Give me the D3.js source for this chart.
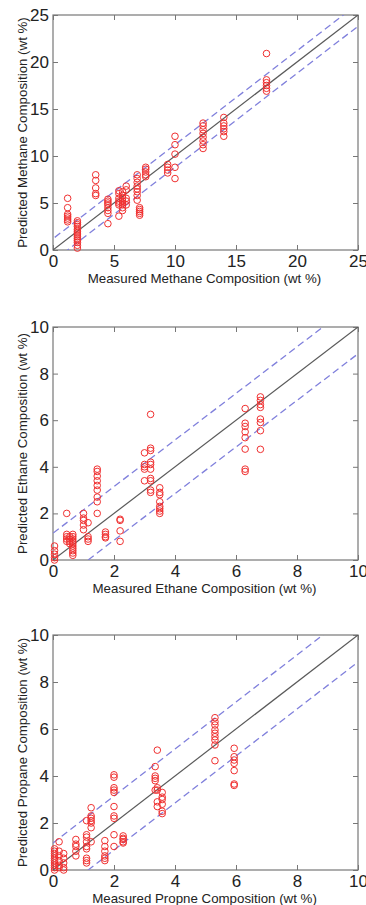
<!DOCTYPE html>
<html>
<head>
<meta charset="utf-8">
<script src="https://cdn.jsdelivr.net/npm/d3@7"></script>
<style>
  body { margin: 0; background: #fff; }
  svg { display: block; }
  text { font-family: Arial, "Liberation Sans", sans-serif; fill: #222; }
</style>
</head>
<body>
<div id="chart"></div>
<script>
// measured value of each column of points, and the predicted values in it
const methaneMeasured = [1.2, 2.0, 3.5, 4.5, 5.4, 5.7, 6.0, 6.9, 7.1, 7.6, 9.4, 10.0, 12.3, 14.0, 17.5];
const methanePredicted = [
  [5.5, 4.5, 3.8, 3.6, 3.4, 3.2, 3.0],
  [3.1, 2.9, 2.7, 2.5, 2.2, 2.0, 1.8, 1.6, 1.4, 1.2, 1.0, 0.8, 0.5, 0.2],
  [8.0, 7.4, 6.6, 6.0, 5.8],
  [5.4, 5.2, 5.0, 4.8, 4.5, 4.2, 3.9, 2.8],
  [6.3, 6.0, 5.5, 5.2, 5.0, 4.8, 3.6],
  [6.2, 5.8, 5.5, 5.2, 5.0, 4.8, 4.5, 4.2],
  [6.8, 6.4, 5.5, 5.2, 4.8],
  [8.0, 7.6, 7.2, 6.8, 6.5, 6.2, 5.8, 5.3],
  [4.5, 4.3, 4.1, 3.9, 3.7],
  [8.8, 8.6, 8.3, 8.0, 7.8],
  [9.1, 8.8, 8.5, 8.2],
  [12.1, 11.2, 10.2, 8.8, 7.6],
  [13.5, 13.2, 12.8, 12.4, 12.0, 11.6, 11.2, 10.8],
  [14.1, 13.5, 13.2, 12.9, 12.6, 12.1],
  [20.9, 18.1, 17.8, 17.5, 17.2, 16.9]
];

const ethaneMeasured = [0.05, 0.45, 0.55, 0.65, 1.0, 1.15, 1.45, 1.72, 2.2, 3.0, 3.2, 3.5, 6.3, 6.8];
const ethanePredicted = [
  [0.6, 0.4, 0.25, 0.1, 0.0],
  [2.0, 1.1, 1.0, 0.9, 0.8],
  [1.0, 0.9, 0.8, 0.7],
  [1.1, 1.0, 0.9, 0.8, 0.7, 0.6, 0.5, 0.4, 0.3, 0.2],
  [2.0, 1.8, 1.7, 1.5, 1.3],
  [1.6, 1.0, 0.9, 0.8],
  [3.9, 3.8, 3.6, 3.4, 3.2, 3.0, 2.7, 2.5, 2.0],
  [1.2, 1.1, 1.0, 0.95],
  [1.75, 1.7, 1.25, 0.8],
  [4.6, 4.1, 4.0, 3.9, 3.4],
  [6.25, 4.8, 4.7, 4.2, 4.1, 3.9, 3.5, 3.4, 3.0, 2.9],
  [3.1, 2.9, 2.8, 2.5, 2.3, 2.2, 2.1, 2.0],
  [6.5, 5.87, 5.73, 5.5, 5.25, 4.76, 3.9, 3.8],
  [7.0, 6.85, 6.67, 6.55, 6.05, 5.9, 5.55, 4.75]
];

const propaneMeasured = [0.05, 0.2, 0.35, 0.75, 1.1, 1.25, 1.7, 2.0, 2.3, 3.35, 3.42, 3.58, 5.31, 5.94];
const propanePredicted = [
  [0.9, 0.8, 0.7, 0.6, 0.5, 0.4, 0.3, 0.2, 0.1, 0.0],
  [1.2, 0.8, 0.6, 0.4, 0.2, 0.1],
  [0.7, 0.5, 0.3, 0.1, 0.0],
  [1.3, 1.1, 1.0, 0.8, 0.6],
  [2.1, 1.5, 1.4, 1.2, 1.0, 0.9, 0.5, 0.4, 0.3],
  [2.65, 2.3, 2.2, 2.1, 2.0, 1.8, 1.2],
  [1.25, 1.0, 0.8, 0.6, 0.5, 0.4],
  [4.05, 3.95, 3.5, 3.4, 3.3, 2.7, 2.3, 2.2, 1.5, 1.0],
  [1.45, 1.35, 1.3, 1.2, 1.15],
  [4.4, 4.0, 3.9, 3.8, 3.4],
  [5.1, 3.5, 3.4, 2.9, 2.7],
  [3.3, 3.1, 3.0, 2.8, 2.5, 2.4],
  [6.48, 6.31, 6.17, 5.96, 5.82, 5.67, 5.53, 5.32, 4.65],
  [5.18, 4.82, 4.68, 4.54, 4.23, 3.66, 3.6]
];

const methaneTicks = [0, 5, 10, 15, 20, 25];
const smallTicks = [0, 2, 4, 6, 8, 10];

const panels = [
  { id: 'methane', measured: methaneMeasured, predicted: methanePredicted, max: 25, ticks: methaneTicks, band: 1.2,
    xLabel: 'Measured Methane Composition (wt %)', yLabel: 'Predicted Methane Composition (wt %)', top: 15, bottom: 250 },
  { id: 'ethane', measured: ethaneMeasured, predicted: ethanePredicted, max: 10, ticks: smallTicks, band: 1.15,
    xLabel: 'Measured Ethane Composition (wt %)', yLabel: 'Predicted Ethane Composition (wt %)', top: 327, bottom: 560 },
  { id: 'propane', measured: propaneMeasured, predicted: propanePredicted, max: 10, ticks: smallTicks, band: 1.15,
    xLabel: 'Measured Propne Composition (wt %)', yLabel: 'Predicted Propane Composition (wt %)', top: 635, bottom: 870 }
];

const width = 366, height = 905;
const left = 53, right = 358;

const svg = d3.select('#chart').append('svg')
  .attr('width', width)
  .attr('height', height);

panels.forEach(p => {
  const x = d3.scaleLinear().domain([0, p.max]).range([left, right]);
  const y = d3.scaleLinear().domain([0, p.max]).range([p.bottom, p.top]);

  const g = svg.append('g');

  g.append('clipPath').attr('id', 'clip-' + p.id)
    .append('rect')
    .attr('x', left).attr('y', p.top)
    .attr('width', right - left).attr('height', p.bottom - p.top);

  // inner ticks on all four sides, matlab style
  const tickLen = 5;
  const axisStyle = sel => {
    sel.select('.domain').remove();
    sel.selectAll('.tick line').attr('stroke', '#777');
  };
  g.append('g').attr('transform', `translate(0,${p.bottom})`)
    .call(d3.axisBottom(x).tickValues(p.ticks).tickSizeInner(-tickLen).tickPadding(3).tickFormat(d3.format('d')))
    .call(axisStyle)
    .selectAll('text').attr('font-size', 17).attr('fill', '#1a1a1a').attr('dy', '0.8em');
  g.append('g').attr('transform', `translate(0,${p.top})`)
    .call(d3.axisTop(x).tickValues(p.ticks).tickSizeInner(-tickLen).tickFormat(''))
    .call(axisStyle);
  g.append('g').attr('transform', `translate(${left},0)`)
    .call(d3.axisLeft(y).tickValues(p.ticks).tickSizeInner(-tickLen).tickPadding(4).tickFormat(d3.format('d')))
    .call(axisStyle)
    .selectAll('text').attr('font-size', 17).attr('fill', '#1a1a1a').attr('x', -4);
  g.append('g').attr('transform', `translate(${right},0)`)
    .call(d3.axisRight(y).tickValues(p.ticks).tickSizeInner(-tickLen).tickFormat(''))
    .call(axisStyle);

  g.append('rect')
    .attr('x', left).attr('y', p.top)
    .attr('width', right - left).attr('height', p.bottom - p.top)
    .attr('fill', 'none').attr('stroke', '#777').attr('stroke-width', 1.2);

  const plot = g.append('g').attr('clip-path', `url(#clip-${p.id})`);

  // +/- band lines and the parity line
  const line = d3.line().x(d => x(d[0])).y(d => y(d[1]));
  [p.band, -p.band].forEach(off => {
    plot.append('path')
      .attr('d', line([[-2, -2 + off], [p.max + 2, p.max + 2 + off]]))
      .attr('fill', 'none').attr('stroke', '#8080dc').attr('stroke-width', 1.3)
      .attr('stroke-dasharray', '7,4');
  });
  plot.append('path')
    .attr('d', line([[0, 0], [p.max, p.max]]))
    .attr('fill', 'none').attr('stroke', '#5a5a5a').attr('stroke-width', 1.2);

  const pts = [];
  p.measured.forEach((m, i) => p.predicted[i].forEach(v => pts.push([m, v])));

  g.append('g').selectAll('circle')
    .data(pts)
    .enter()
    .append('circle')
    .attr('cx', d => x(d[0]))
    .attr('cy', d => y(d[1]))
    .attr('r', 3.3)
    .attr('fill', 'none')
    .attr('stroke', '#f03030')
    .attr('stroke-width', 1);

  g.append('text')
    .attr('x', (left + right) / 2 - 1)
    .attr('y', p.bottom + 33)
    .attr('text-anchor', 'middle')
    .attr('font-size', 13.3)
    .text(p.xLabel);

  g.append('text')
    .attr('transform', `translate(22,${(p.top + p.bottom) / 2})rotate(-90)`)
    .attr('text-anchor', 'middle')
    .attr('dy', '0.35em')
    .attr('font-size', 13.3)
    .text(p.yLabel);
});
</script>
</body>
</html>
